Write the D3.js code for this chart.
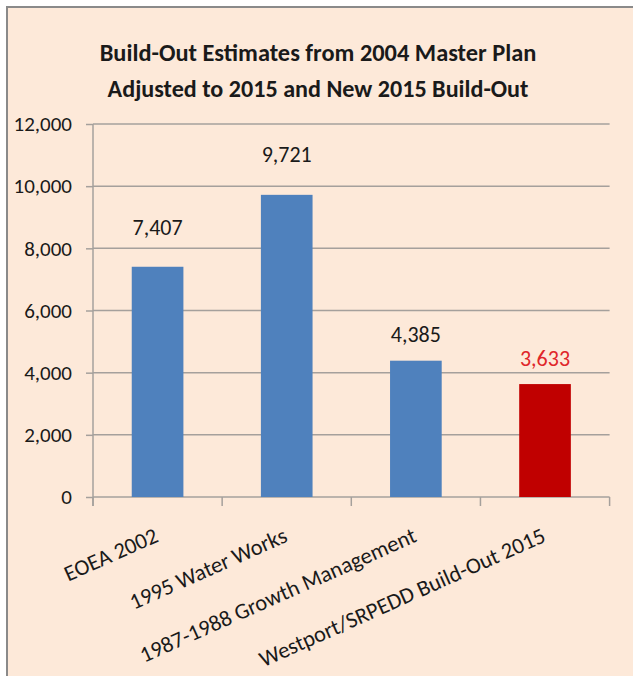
<!DOCTYPE html>
<html>
<head>
<meta charset="utf-8">
<script src="https://cdn.jsdelivr.net/npm/d3@7"></script>
<style>
  html, body { margin: 0; padding: 0; background: #ffffff; }
  svg text { font-family: Carlito, "Liberation Sans Narrow", "Open Sans", "DejaVu Sans Condensed", sans-serif; }
</style>
</head>
<body>
<svg id="chart" width="633" height="676"></svg>
<script>
// Build-out estimates (dwelling units)
const categories = [
  "EOEA 2002",
  "1995 Water Works",
  "1987-1988 Growth Management",
  "Westport/SRPEDD Build-Out 2015"
];
const values = [7407, 9721, 4385, 3633];
const yTicks = [0, 2000, 4000, 6000, 8000, 10000, 12000];
const titleLines = [
  "Build-Out Estimates from 2004 Master Plan",
  "Adjusted to 2015 and New 2015 Build-Out"
];
const highlighted = "Westport/SRPEDD Build-Out 2015";

const W = 633, H = 676;
const plot = { left: 93, right: 609.6, top: 124, bottom: 497 };
const bg = "#FDE9D9", gridColor = "#A5A09C", textColor = "#1a1a1a";
const blue = "#4F81BD", red = "#C00000", redLabel = "#E0262A";

const svg = d3.select("#chart");

// chart area with frame
svg.append("rect")
  .attr("x", 7).attr("y", 7)
  .attr("width", W + 10).attr("height", H + 10)
  .attr("fill", bg)
  .attr("stroke", "#8A8A8A").attr("stroke-width", 2);

// title, sized so each line spans its natural width
const titleWidths = [437, 421];
const titleBaselines = [61, 97];
titleLines.forEach((t, i) => {
  const el = svg.append("text")
    .attr("x", 318).attr("y", titleBaselines[i])
    .attr("text-anchor", "middle")
    .attr("font-weight", "bold")
    .attr("font-size", 22)
    .attr("fill", textColor)
    .text(t);
  const w = el.node().getComputedTextLength();
  el.attr("font-size", 22 * titleWidths[i] / w);
});

const x = d3.scaleBand()
  .domain(categories)
  .range([plot.left, plot.right])
  .paddingInner(0.6)
  .paddingOuter(0.3);

const y = d3.scaleLinear()
  .domain([0, 12000])
  .range([plot.bottom, plot.top]);

// horizontal gridlines
svg.append("g")
  .selectAll("line")
  .data(yTicks.filter(d => d > 0))
  .join("line")
  .attr("x1", plot.left).attr("x2", plot.right)
  .attr("y1", d => y(d)).attr("y2", d => y(d))
  .attr("stroke", gridColor).attr("stroke-width", 1.5);

// y axis
const yAxis = svg.append("g")
  .attr("transform", `translate(${plot.left},0)`)
  .call(d3.axisLeft(y).tickValues(yTicks).tickFormat(d3.format(",")).tickSize(7).tickPadding(14));
yAxis.select(".domain").attr("stroke", gridColor).attr("stroke-width", 1.5)
  .attr("d", `M0,${plot.top}V${plot.bottom + 9}`);
yAxis.selectAll(".tick line").attr("stroke", gridColor).attr("stroke-width", 1.5);
yAxis.selectAll(".tick text")
  .attr("font-size", 21)
  .attr("fill", textColor)
  .attr("font-family", null);

// x axis: boundary tick marks between categories
const boundaries = d3.range(categories.length + 1).map(i => plot.left + i * (plot.right - plot.left) / categories.length);
svg.append("line")
  .attr("x1", plot.left).attr("x2", plot.right)
  .attr("y1", plot.bottom).attr("y2", plot.bottom)
  .attr("stroke", gridColor).attr("stroke-width", 1.5);
svg.append("g")
  .selectAll("line")
  .data(boundaries)
  .join("line")
  .attr("x1", d => d).attr("x2", d => d)
  .attr("y1", plot.bottom).attr("y2", plot.bottom + 9)
  .attr("stroke", gridColor).attr("stroke-width", 1.5);

// bars
svg.append("g")
  .selectAll("rect")
  .data(categories)
  .join("rect")
  .attr("x", d => x(d))
  .attr("width", x.bandwidth())
  .attr("y", (d, i) => y(values[i]))
  .attr("height", (d, i) => y(0) - y(values[i]))
  .attr("fill", d => d === highlighted ? red : blue);

// value labels above the bars
const labelLift = [32, 33, 19, 18];
svg.append("g")
  .selectAll("text")
  .data(categories)
  .join("text")
  .attr("x", d => x(d) + x.bandwidth() / 2)
  .attr("y", (d, i) => y(values[i]) - labelLift[i])
  .attr("text-anchor", "middle")
  .attr("font-size", 22)
  .attr("fill", d => d === highlighted ? redLabel : textColor)
  .text((d, i) => d3.format(",")(values[i]));

// rotated category labels
svg.append("g")
  .selectAll("text")
  .data(categories)
  .join("text")
  .attr("text-anchor", "end")
  .attr("font-size", 22.5)
  .attr("fill", textColor)
  .attr("transform", d => `translate(${x(d) + x.bandwidth() / 2 + 2},${plot.bottom + 44}) rotate(-24)`)
  .text(d => d);
</script>
</body>
</html>
